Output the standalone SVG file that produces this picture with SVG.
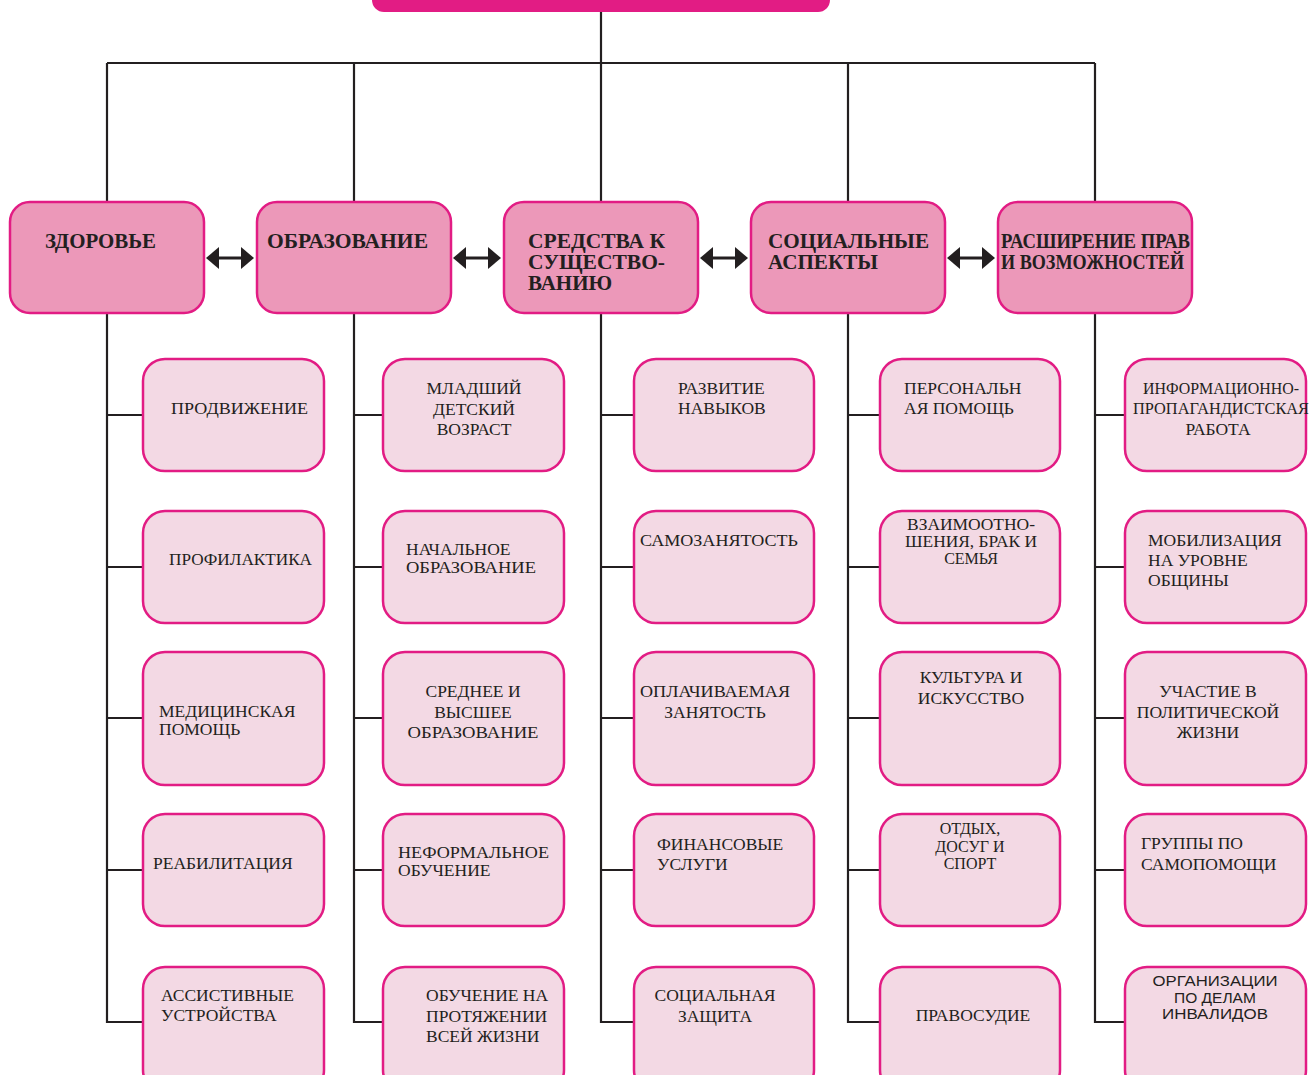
<svg xmlns="http://www.w3.org/2000/svg" width="1313" height="1075" viewBox="0 0 1313 1075">
<style>
.top{fill:#E21C84;}
.hdr{fill:#EC98B9;stroke:#E21C84;stroke-width:2.5;}
.ch{fill:#F3D9E4;stroke:#E21C84;stroke-width:2.5;}
.ln{fill:none;stroke:#231F20;stroke-width:2.2;}
.ht{font-family:"Liberation Serif",serif;font-weight:bold;font-size:21px;fill:#231F20;}
.ct{font-family:"Liberation Serif",serif;font-size:17.5px;fill:#231F20;}
.tt{font-family:"Liberation Serif",serif;font-size:16px;fill:#231F20;}
.cs{font-family:"Liberation Sans",sans-serif;font-size:15.5px;fill:#231F20;}
.ah{fill:#231F20;}
.m{text-anchor:middle;}
</style>
<defs>
<g id="dbl">
<line x1="12" y1="0" x2="36" y2="0" stroke="#231F20" stroke-width="3"/>
<polygon class="ah" points="0,0 13,-11 13,11"/>
<polygon class="ah" points="48,0 35,-11 35,11"/>
</g>
</defs>
<rect id="root" class="top" x="372" y="-30" width="458" height="42" rx="12"/>
<g id="connectors">
<path class="ln" d="M601 12V202M107 63H1095M107 63V202M354 63V202M848 63V202M1095 63V202"/>
<path class="ln" d="M107 313V1022H143M107 415H143M107 567H143M107 718H143M107 870H143"/>
<path class="ln" d="M354 313V1022H383M354 415H383M354 567H383M354 718H383M354 870H383"/>
<path class="ln" d="M601 313V1022H634M601 415H634M601 567H634M601 718H634M601 870H634"/>
<path class="ln" d="M848 313V1022H880M848 415H880M848 567H880M848 718H880M848 870H880"/>
<path class="ln" d="M1095 313V1022H1125M1095 415H1125M1095 567H1125M1095 718H1125M1095 870H1125"/>
<use href="#dbl" x="206" y="258"/>
<use href="#dbl" x="453" y="258"/>
<use href="#dbl" x="700" y="258"/>
<use href="#dbl" x="947" y="258"/>
</g>
<g id="h1"><rect class="hdr" x="10" y="202" width="194" height="111" rx="20"/><text class="ht" x="45" y="248" textLength="111" lengthAdjust="spacingAndGlyphs">ЗДОРОВЬЕ</text></g>
<g id="h2"><rect class="hdr" x="257" y="202" width="194" height="111" rx="20"/><text class="ht" x="267" y="248" textLength="161" lengthAdjust="spacingAndGlyphs">ОБРАЗОВАНИЕ</text></g>
<g id="h3"><rect class="hdr" x="504" y="202" width="194" height="111" rx="20"/><text class="ht" x="528" y="248" textLength="137" lengthAdjust="spacingAndGlyphs">СРЕДСТВА К</text><text class="ht" x="528" y="269" textLength="137" lengthAdjust="spacingAndGlyphs">СУЩЕСТВО-</text><text class="ht" x="528" y="290">ВАНИЮ</text></g>
<g id="h4"><rect class="hdr" x="751" y="202" width="194" height="111" rx="20"/><text class="ht" x="768" y="248" textLength="161" lengthAdjust="spacingAndGlyphs">СОЦИАЛЬНЫЕ</text><text class="ht" x="768" y="269" textLength="110" lengthAdjust="spacingAndGlyphs">АСПЕКТЫ</text></g>
<g id="h5"><rect class="hdr" x="998" y="202" width="194" height="111" rx="20"/><text class="ht" x="1001" y="248" textLength="189" lengthAdjust="spacingAndGlyphs">РАСШИРЕНИЕ ПРАВ</text><text class="ht" x="1001" y="269" textLength="183" lengthAdjust="spacingAndGlyphs">И ВОЗМОЖНОСТЕЙ</text></g>

<g id="c1r1"><rect class="ch" x="143" y="359" width="181" height="112" rx="22"/><text class="ct" x="171" y="414" textLength="137" lengthAdjust="spacingAndGlyphs">ПРОДВИЖЕНИЕ</text></g>
<g id="c1r2"><rect class="ch" x="143" y="511" width="181" height="112" rx="22"/><text class="ct" x="169" y="565" textLength="143" lengthAdjust="spacingAndGlyphs">ПРОФИЛАКТИКА</text></g>
<g id="c1r3"><rect class="ch" x="143" y="652" width="181" height="133" rx="22"/><text class="ct" x="159" y="717">МЕДИЦИНСКАЯ</text><text class="ct" x="159" y="735">ПОМОЩЬ</text></g>
<g id="c1r4"><rect class="ch" x="143" y="814" width="181" height="112" rx="22"/><text class="ct" x="153" y="869">РЕАБИЛИТАЦИЯ</text></g>
<g id="c1r5"><rect class="ch" x="143" y="967" width="181" height="125" rx="22"/><text class="ct" x="161" y="1001">АССИСТИВНЫЕ</text><text class="ct" x="161" y="1021">УСТРОЙСТВА</text></g>

<g id="c2r1"><rect class="ch" x="383" y="359" width="181" height="112" rx="22"/><text class="ct m" x="474" y="394">МЛАДШИЙ</text><text class="ct m" x="474" y="415">ДЕТСКИЙ</text><text class="ct m" x="474" y="435">ВОЗРАСТ</text></g>
<g id="c2r2"><rect class="ch" x="383" y="511" width="181" height="112" rx="22"/><text class="ct" x="406" y="555">НАЧАЛЬНОЕ</text><text class="ct" x="406" y="573" textLength="130" lengthAdjust="spacingAndGlyphs">ОБРАЗОВАНИЕ</text></g>
<g id="c2r3"><rect class="ch" x="383" y="652" width="181" height="133" rx="22"/><text class="ct m" x="473" y="697">СРЕДНЕЕ И</text><text class="ct m" x="473" y="718">ВЫСШЕЕ</text><text class="ct m" x="473" y="738" textLength="131" lengthAdjust="spacingAndGlyphs">ОБРАЗОВАНИЕ</text></g>
<g id="c2r4"><rect class="ch" x="383" y="814" width="181" height="112" rx="22"/><text class="ct" x="398" y="858" textLength="151" lengthAdjust="spacingAndGlyphs">НЕФОРМАЛЬНОЕ</text><text class="ct" x="398" y="876">ОБУЧЕНИЕ</text></g>
<g id="c2r5"><rect class="ch" x="383" y="967" width="181" height="125" rx="22"/><text class="ct" x="426" y="1001">ОБУЧЕНИЕ НА</text><text class="ct" x="426" y="1022">ПРОТЯЖЕНИИ</text><text class="ct" x="426" y="1042">ВСЕЙ ЖИЗНИ</text></g>

<g id="c3r1"><rect class="ch" x="634" y="359" width="180" height="112" rx="22"/><text class="ct" x="678" y="394">РАЗВИТИЕ</text><text class="ct" x="678" y="414">НАВЫКОВ</text></g>
<g id="c3r2"><rect class="ch" x="634" y="511" width="180" height="112" rx="22"/><text class="ct" x="640" y="546" textLength="158" lengthAdjust="spacingAndGlyphs">САМОЗАНЯТОСТЬ</text></g>
<g id="c3r3"><rect class="ch" x="634" y="652" width="180" height="133" rx="22"/><text class="ct m" x="715" y="697" textLength="150" lengthAdjust="spacingAndGlyphs">ОПЛАЧИВАЕМАЯ</text><text class="ct m" x="715" y="718">ЗАНЯТОСТЬ</text></g>
<g id="c3r4"><rect class="ch" x="634" y="814" width="180" height="112" rx="22"/><text class="ct" x="657" y="850">ФИНАНСОВЫЕ</text><text class="ct" x="657" y="870">УСЛУГИ</text></g>
<g id="c3r5"><rect class="ch" x="634" y="967" width="180" height="125" rx="22"/><text class="ct m" x="715" y="1001">СОЦИАЛЬНАЯ</text><text class="ct m" x="715" y="1022">ЗАЩИТА</text></g>

<g id="c4r1"><rect class="ch" x="880" y="359" width="180" height="112" rx="22"/><text class="ct" x="904" y="394">ПЕРСОНАЛЬН</text><text class="ct" x="904" y="414">АЯ ПОМОЩЬ</text></g>
<g id="c4r2"><rect class="ch" x="880" y="511" width="180" height="112" rx="22"/><text class="tt m" x="971" y="530" textLength="128" lengthAdjust="spacingAndGlyphs">ВЗАИМООТНО-</text><text class="tt m" x="971" y="547" textLength="132" lengthAdjust="spacingAndGlyphs">ШЕНИЯ, БРАК И</text><text class="tt m" x="971" y="564">СЕМЬЯ</text></g>
<g id="c4r3"><rect class="ch" x="880" y="652" width="180" height="133" rx="22"/><text class="ct m" x="971" y="683">КУЛЬТУРА И</text><text class="ct m" x="971" y="704">ИСКУССТВО</text></g>
<g id="c4r4"><rect class="ch" x="880" y="814" width="180" height="112" rx="22"/><text class="tt m" x="970" y="834">ОТДЫХ,</text><text class="tt m" x="970" y="852">ДОСУГ И</text><text class="tt m" x="970" y="869">СПОРТ</text></g>
<g id="c4r5"><rect class="ch" x="880" y="967" width="180" height="125" rx="22"/><text class="ct m" x="973" y="1021">ПРАВОСУДИЕ</text></g>

<g id="c5r1"><rect class="ch" x="1125" y="359" width="181" height="112" rx="22"/><text class="ct m" x="1221" y="394" textLength="156" lengthAdjust="spacingAndGlyphs">ИНФОРМАЦИОННО-</text><text class="ct m" x="1221" y="414" textLength="176" lengthAdjust="spacingAndGlyphs">ПРОПАГАНДИСТСКАЯ</text><text class="ct m" x="1218" y="435">РАБОТА</text></g>
<g id="c5r2"><rect class="ch" x="1125" y="511" width="181" height="112" rx="22"/><text class="ct" x="1148" y="546">МОБИЛИЗАЦИЯ</text><text class="ct" x="1148" y="566">НА УРОВНЕ</text><text class="ct" x="1148" y="586">ОБЩИНЫ</text></g>
<g id="c5r3"><rect class="ch" x="1125" y="652" width="181" height="133" rx="22"/><text class="ct m" x="1208" y="697">УЧАСТИЕ В</text><text class="ct m" x="1208" y="718">ПОЛИТИЧЕСКОЙ</text><text class="ct m" x="1208" y="738">ЖИЗНИ</text></g>
<g id="c5r4"><rect class="ch" x="1125" y="814" width="181" height="112" rx="22"/><text class="ct" x="1141" y="849">ГРУППЫ ПО</text><text class="ct" x="1141" y="870">САМОПОМОЩИ</text></g>
<g id="c5r5"><rect class="ch" x="1125" y="967" width="181" height="125" rx="22"/><text class="cs m" x="1215" y="986" textLength="125" lengthAdjust="spacingAndGlyphs">ОРГАНИЗАЦИИ</text><text class="cs m" x="1215" y="1003">ПО ДЕЛАМ</text><text class="cs m" x="1215" y="1019" textLength="106" lengthAdjust="spacingAndGlyphs">ИНВАЛИДОВ</text></g>
</svg>
